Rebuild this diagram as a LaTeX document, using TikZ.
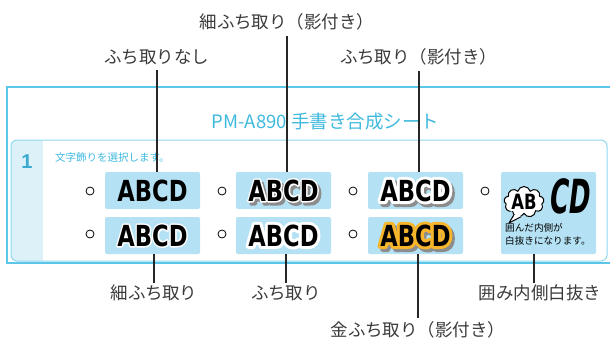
\documentclass[tikz,border=0pt]{standalone}
\usepackage{fontspec}
\setmainfont{Noto Sans CJK JP}
\newfontfamily\abcdfont{DejaVu Sans}[FakeStretch=0.78]
\newfontfamily\abcdthin{DejaVu Sans}[FakeStretch=0.78, FakeBold=10.3]
\newfontfamily\abcdthick{DejaVu Sans}[FakeStretch=0.78, FakeBold=20.7]
\newfontfamily\abrim{DejaVu Sans}[FakeStretch=0.78, FakeBold=14.3]
\newfontfamily\cdfont{DejaVu Sans}[FakeStretch=0.55, FakeSlant=0.12]
\newfontfamily\numfont{Liberation Sans}
\usetikzlibrary{calc,shapes.symbols}

\definecolor{frameCyan}{HTML}{5CC6E9}
\definecolor{innerCyan}{HTML}{8ED7EF}
\definecolor{titleCyan}{HTML}{3FB9DE}
\definecolor{numCyan}{HTML}{3AABCF}
\definecolor{boxBlue}{HTML}{B4E1F3}
\definecolor{stripBlue}{HTML}{DDF1F9}
\definecolor{goldRim}{HTML}{F7B52C}
\definecolor{shadowGray}{HTML}{8C8C8C}
\definecolor{labelGray}{HTML}{3A3A3A}

\begin{document}
\begin{tikzpicture}
    [x = 1pt, y = -1pt,
     labelNode/.style = {inner sep = 0pt, text = labelGray,
                         font = \fontsize{17.5}{20}\selectfont},
     leader/.style = {line width = 2.2pt, black!85},
     optBox/.style = {fill = boxBlue, rounded corners = 2pt,
                      minimum width = 95pt, minimum height = 37pt,
                      inner sep = 0pt},
     radioNode/.style = {circle, draw, line width = 0.8pt,
                         minimum size = 8pt, inner sep = 0pt},
     abcdNode/.style = {inner sep = 0pt,
                        font = \abcdfont\bfseries\fontsize{29}{30}\selectfont},
     thinRim/.style = {inner sep = 0pt, line join = round,
                       font = \abcdthin\bfseries\fontsize{29}{30}\selectfont},
     thickRim/.style = {inner sep = 0pt, line join = round,
                        font = \abcdthick\bfseries\fontsize{29}{30}\selectfont},
     shadowShift/.style = {xshift = 2.5pt, yshift = -3pt},
     abNode/.style = {inner sep = 0pt,
                      font = \abcdfont\bfseries\fontsize{21}{22}\selectfont},
     abRim/.style = {inner sep = 0pt, line join = round, text = white,
                     font = \abrim\bfseries\fontsize{21}{22}\selectfont},
     cyanText/.style = {inner sep = 0pt, text = titleCyan}]

    \useasboundingbox (0,0) rectangle (610,342);

    % sheet frame
    \draw [frameCyan, line width = 1.3pt] (611,87) -| (7,263) -- (611,263);
    \begin{scope}
      \clip [rounded corners = 6pt] (11,140) rectangle (607,261);
      \fill [stripBlue] (11,140) rectangle (43,261);
    \end{scope}
    \draw [innerCyan, line width = 1pt, rounded corners = 6pt]
      (11,140) rectangle (607,261);

    \node at (325.5,122) [cyanText, font = \fontsize{18.5}{20}\selectfont]
      (title) {PM-A890 手書き合成シート};
    \node at (27,162) [inner sep = 0pt, text = numCyan,
                       font = \numfont\bfseries\fontsize{20}{22}\selectfont]
      (stepNum) {1};
    \node at (55,158) [cyanText, anchor = west,
                       font = \fontsize{10.5}{12}\selectfont]
      (stepText) {文字飾りを選択します。};

    % option boxes
    \node at (152.5,190.5) [optBox] (bNone) {};
    \node at (283.5,190.5) [optBox] (bThinSh) {};
    \node at (415.5,190.5) [optBox] (bThickSh) {};
    \node at (152.5,235.5) [optBox] (bThin) {};
    \node at (283.5,235.5) [optBox] (bThick) {};
    \node at (415.5,235.5) [optBox] (bGold) {};
    \node at (548.5,213)   [optBox, minimum height = 82pt] (bWhite) {};

    \node at (90,191)  [radioNode] (rNone) {};
    \node at (222,191) [radioNode] (rThinSh) {};
    \node at (353,191) [radioNode] (rThickSh) {};
    \node at (485,191) [radioNode] (rWhite) {};
    \node at (90,234)  [radioNode] (rThin) {};
    \node at (222,234) [radioNode] (rThick) {};
    \node at (353,234) [radioNode] (rGold) {};

    % lettering: shadow, rim, then the black letters
    \node at (bNone) [abcdNode] (tNone) {ABCD};

    \node at (bThinSh) [thinRim, shadowShift, text = shadowGray] (sThinSh) {ABCD};
    \node at (bThinSh) [thinRim, text = white] (wThinSh) {ABCD};
    \node at (bThinSh) [abcdNode] (tThinSh) {ABCD};

    \node at (bThickSh) [thickRim, shadowShift, text = shadowGray] (sThickSh) {ABCD};
    \node at (bThickSh) [thickRim, text = white] (wThickSh) {ABCD};
    \node at (bThickSh) [abcdNode] (tThickSh) {ABCD};

    \node at (bThin) [thinRim, text = white] (wThin) {ABCD};
    \node at (bThin) [abcdNode] (tThin) {ABCD};

    \node at (bThick) [thickRim, text = white] (wThick) {ABCD};
    \node at (bThick) [abcdNode] (tThick) {ABCD};

    \node at (bGold) [thickRim, shadowShift, text = shadowGray] (sGold) {ABCD};
    \node at (bGold) [thickRim, text = goldRim] (wGold) {ABCD};
    \node at (bGold) [abcdNode] (tGold) {ABCD};

    % speech cloud
    \node at (524,202) [cloud, cloud puffs = 9, aspect = 1.3, draw,
                        fill = white, line width = 1pt, inner sep = 0pt,
                        minimum width = 40pt, minimum height = 31pt]
      (bubble) {};
    \coordinate (tailTip) at (509,223);
    \fill [white] (bubble.232) -- (tailTip) -- (bubble.258)
      -- ($(bubble.245)!0.3!(bubble.center)$) -- cycle;
    \draw [line width = 1pt, line join = round]
      (bubble.232) -- (tailTip) -- (bubble.258);
    \node at (bubble) [abRim] (wAB) {AB};
    \node at (bubble) [abNode] (tAB) {AB};
    \node at (569,196) [inner sep = 0pt,
                        font = \cdfont\bfseries\fontsize{47}{48}\selectfont]
      (tCD) {CD};
    \node at (505,223) [inner sep = 0pt, anchor = north west, align = left,
                        font = \fontsize{9.6}{13.5}\selectfont]
      (whiteNote) {囲んだ内側が\\白抜きになります。};

    % labels
    \node at (157,57)  [labelNode] (lblNone)    {ふち取りなし};
    \node at (287,22)  [labelNode] (lblThinSh)  {細ふち取り（影付き）};
    \node at (419,57)  [labelNode] (lblThickSh) {ふち取り（影付き）};
    \node at (154,293) [labelNode] (lblThin)    {細ふち取り};
    \node at (286,293) [labelNode] (lblThick)   {ふち取り};
    \node at (418,330) [labelNode] (lblGold)    {金ふち取り（影付き）};
    \node at (540,293) [labelNode] (lblWhite)   {囲み内側白抜き};
    \coordinate (whiteFoot) at ([xshift = -6pt]lblWhite.north);

    \draw [leader, shorten <= 5pt] (lblNone.south) -- (lblNone.south |- bNone.north);
    \draw [leader, shorten <= 5pt] (lblThinSh.south) -- (lblThinSh.south |- bThinSh.north);
    \draw [leader, shorten <= 5pt] (lblThickSh.south) -- (lblThickSh.south |- bThickSh.north);
    \draw [leader, shorten <= 2pt] (lblThin.north) -- (lblThin.north |- bThin.south);
    \draw [leader, shorten <= 2pt] (lblThick.north) -- (lblThick.north |- bThick.south);
    \draw [leader, shorten <= 3pt] (lblGold.north) -- (lblGold.north |- bGold.south);
    \draw [leader, shorten <= 2pt] (whiteFoot) -- (whiteFoot |- bWhite.south);
  \end{tikzpicture}
\end{document}
